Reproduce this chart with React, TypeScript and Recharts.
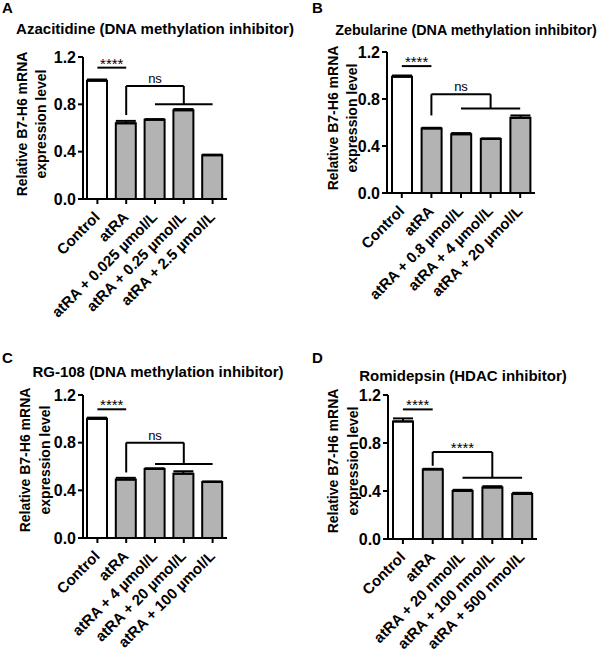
import React from 'react';
import { BarChart, Bar, XAxis, YAxis, Cell, ErrorBar, ReferenceLine } from 'recharts';

const FONT = '"Liberation Sans", Arial, Helvetica, sans-serif';

// ---------- data ----------
const yTicks = [0, 0.4, 0.8, 1.2];

const categoriesA = ['Control', 'atRA', 'atRA + 0.025 µmol/L', 'atRA + 0.25 µmol/L', 'atRA + 2.5 µmol/L'];
const valuesA = [1.0, 0.64, 0.67, 0.75, 0.37];
const errorsA = [0.01, 0.02, 0.005, 0.01, 0.005];
const annotA = [1.11, 0.955, 0.71, 0.8]; // pair line, bracket top, bracket left end, group line
const labelsA = ['****', 'ns'];

const categoriesB = ['Control', 'atRA', 'atRA + 0.8 µmol/L', 'atRA + 4 µmol/L', 'atRA + 20 µmol/L'];
const valuesB = [0.99, 0.55, 0.5, 0.46, 0.64];
const errorsB = [0.01, 0.005, 0.01, 0.005, 0.02];
const annotB = [1.08, 0.84, 0.66, 0.72];
const labelsB = ['****', 'ns'];

const categoriesC = ['Control', 'atRA', 'atRA + 4 µmol/L', 'atRA + 20 µmol/L', 'atRA + 100 µmol/L'];
const valuesC = [1.0, 0.49, 0.58, 0.54, 0.47];
const errorsC = [0.01, 0.015, 0.005, 0.02, 0.005];
const annotC = [1.08, 0.8, 0.55, 0.62];
const labelsC = ['****', 'ns'];

const categoriesD = ['Control', 'atRA', 'atRA + 20 nmol/L', 'atRA + 100 nmol/L', 'atRA + 500 nmol/L'];
const valuesD = [0.98, 0.58, 0.4, 0.43, 0.375];
const errorsD = [0.025, 0.005, 0.01, 0.01, 0.01];
const annotD = [1.08, 0.725, 0.61, 0.51];
const labelsD = ['****', '****'];

const titles = [
  'Azacitidine (DNA methylation inhibitor)',
  'Zebularine (DNA methylation inhibitor)',
  'RG-108 (DNA methylation inhibitor)',
  'Romidepsin (HDAC inhibitor)',
];
const letters = ['A', 'B', 'C', 'D'];
const yLabelLines = ['Relative B7-H6 mRNA', 'expression level'];

// ---------- helpers ----------
const RotTick = (props: any) => {
  const { x, y, payload } = props;
  const ax = x + 4;
  return (
    <text
      x={ax}
      y={y}
      transform={`rotate(-45, ${ax}, ${y})`}
      textAnchor="end"
      dx={-9}
      dy={8}
      fontSize={15}
      fontWeight="bold"
      fontFamily={FONT}
      fill="#000"
      stroke="none"
    >
      {payload.value}
    </text>
  );
};

const annText = (text: string, dy: number, size: number) => (props: any) => {
  const vb = props.viewBox || {};
  const cx = (vb.x || 0) + (vb.width || 0) / 2;
  const cy = (vb.y || 0) + dy;
  return (
    <text x={cx} y={cy} textAnchor="middle" fontSize={size} fontFamily={FONT} fill="#000" stroke="none">
      {text}
    </text>
  );
};

type Geom = { top: number; right: number; yw: number; xh: number };

function Panel(props: {
  left: number;
  top: number;
  geom: Geom;
  cats: string[];
  vals: number[];
  errs: number[];
  annot: number[];
  labels: string[];
}) {
  const { left, top, geom, cats, vals, errs, annot, labels } = props;
  const data = cats.map((c, i) => ({ name: c, value: vals[i], err: [0, errs[i]] }));
  const [pair, bTop, bLeft, group] = annot;
  const line = { stroke: '#000', strokeWidth: 2 };
  return (
    <div style={{ position: 'absolute', left, top, width: 300, height: 326 }}>
      <BarChart
        width={300}
        height={326}
        data={data}
        margin={{ top: geom.top, right: geom.right, bottom: 0, left: 0 }}
      >
        <XAxis
          dataKey="name"
          height={geom.xh}
          interval={0}
          tick={<RotTick />}
          tickSize={5}
          tickMargin={2}
          axisLine={line}
          tickLine={line}
        />
        <YAxis
          width={geom.yw}
          domain={[0, 1.2]}
          ticks={yTicks}
          interval={0}
          tickFormatter={(v: number) => v.toFixed(1)}
          tick={{ fill: '#000', fontSize: 16, fontWeight: 'bold', fontFamily: FONT }}
          tickSize={5}
          tickMargin={2}
          axisLine={line}
          tickLine={line}
        />
        <Bar dataKey="value" barSize={20} stroke="#000" strokeWidth={2} isAnimationActive={false}>
          {data.map((d, i) => (
            <Cell key={d.name} fill={i === 0 ? '#ffffff' : '#b3b3b3'} />
          ))}
          <ErrorBar dataKey="err" width={10} stroke="#000" strokeWidth={2} direction="y" isAnimationActive={false} />
        </Bar>
        <ReferenceLine
          segment={[{ x: cats[0], y: pair }, { x: cats[1], y: pair }]}
          {...line}
          label={annText(labels[0], 1, 15)}
        />
        <ReferenceLine segment={[{ x: cats[1], y: bLeft }, { x: cats[1], y: bTop }]} {...line} />
        <ReferenceLine
          segment={[{ x: cats[1], y: bTop }, { x: cats[3], y: bTop }]}
          {...line}
          label={annText(labels[1], labels[1] === 'ns' ? -3 : 1, labels[1] === 'ns' ? 13 : 15)}
        />
        <ReferenceLine segment={[{ x: cats[3], y: bTop }, { x: cats[3], y: group }]} {...line} />
        <ReferenceLine segment={[{ x: cats[2], y: group }, { x: cats[4], y: group }]} {...line} />
      </BarChart>
    </div>
  );
}

function YLabel({ x1, x2, cy }: { x1: number; x2: number; cy: number }) {
  const common = {
    textAnchor: 'middle' as const,
    dy: '0.35em',
    fontSize: 14,
    fontWeight: 'bold' as const,
    fontFamily: FONT,
    fill: '#000',
  };
  return (
    <>
      <text x={x1} y={cy} transform={`rotate(-90, ${x1}, ${cy})`} {...common}>
        {yLabelLines[0]}
      </text>
      <text x={x2} y={cy} transform={`rotate(-90, ${x2}, ${cy})`} {...common}>
        {yLabelLines[1]}
      </text>
    </>
  );
}

export default function App() {
  const tStyle = { fontSize: 15, fontWeight: 'bold' as const, fontFamily: FONT, fill: '#000' };
  return (
    <div style={{ position: 'absolute', left: 0, top: 0, width: 600, height: 652, background: '#fff' }}>
      <Panel left={0} top={0} geom={{ top: 57, right: 73, yw: 83, xh: 127 }} cats={categoriesA} vals={valuesA} errs={errorsA} annot={annotA} labels={labelsA} />
      <Panel left={300} top={0} geom={{ top: 52, right: 65, yw: 87, xh: 133 }} cats={categoriesB} vals={valuesB} errs={errorsB} annot={annotB} labels={labelsB} />
      <Panel left={0} top={326} geom={{ top: 69, right: 73, yw: 83, xh: 114 }} cats={categoriesC} vals={valuesC} errs={errorsC} annot={annotC} labels={labelsC} />
      <Panel left={300} top={326} geom={{ top: 69, right: 63, yw: 88, xh: 113 }} cats={categoriesD} vals={valuesD} errs={errorsD} annot={annotD} labels={labelsD} />
      <svg width={600} height={652} style={{ position: 'absolute', left: 0, top: 0, pointerEvents: 'none' }}>
        <text x={2} y={13} {...tStyle}>{letters[0]}</text>
        <text x={312} y={13} {...tStyle}>{letters[1]}</text>
        <text x={2} y={363} {...tStyle}>{letters[2]}</text>
        <text x={312} y={363} {...tStyle}>{letters[3]}</text>
        <text x={155} y={34} textAnchor="middle" {...tStyle}>{titles[0]}</text>
        <text x={466} y={35} textAnchor="middle" {...tStyle} fontSize={14.3}>{titles[1]}</text>
        <text x={158} y={377} textAnchor="middle" {...tStyle}>{titles[2]}</text>
        <text x={463} y={381} textAnchor="middle" {...tStyle}>{titles[3]}</text>
        <YLabel x1={22} x2={41} cy={124} />
        <YLabel x1={333} x2={352} cy={118} />
        <YLabel x1={25} x2={45} cy={460} />
        <YLabel x1={333} x2={353} cy={461} />
      </svg>
    </div>
  );
}
